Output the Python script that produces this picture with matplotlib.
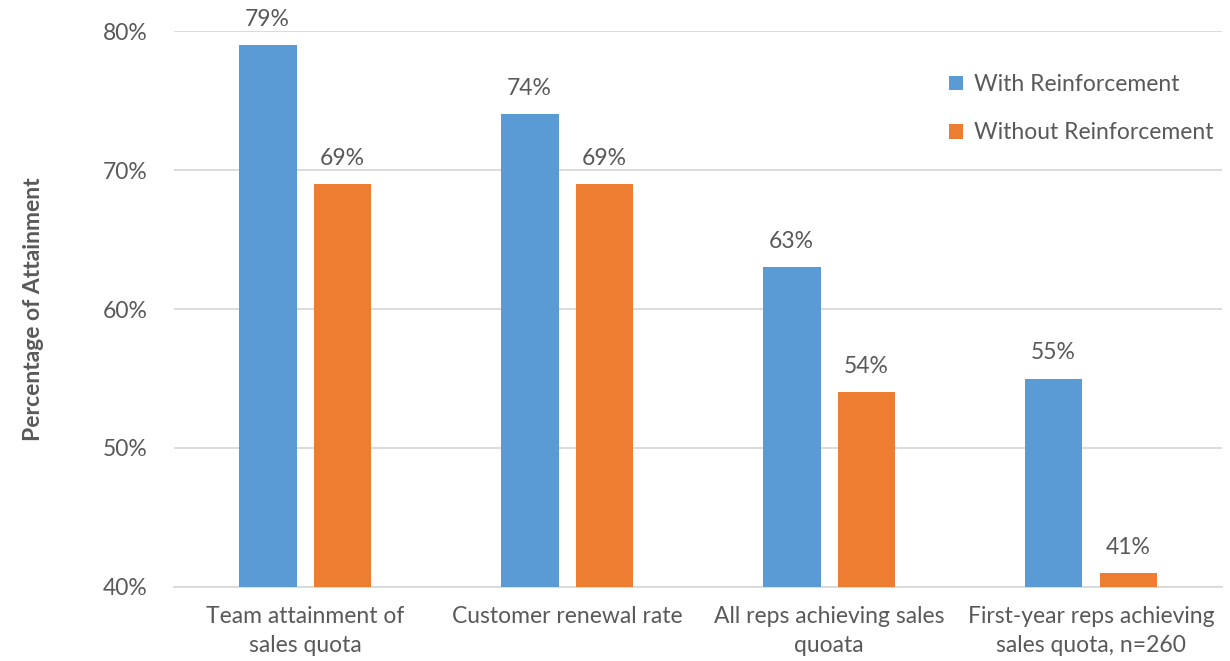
import numpy as np
import matplotlib.pyplot as plt

categories = ['Team attainment of\nsales quota', 'Customer renewal rate',
              'All reps achieving sales\nquoata', 'First-year reps achieving\nsales quota, n=260']
with_reinf = [79, 74, 63, 55]
without_reinf = [69, 69, 54, 41]

blue = '#5b9bd5'
orange = '#ed7d31'
txt = '#595959'
grid = '#d9d9d9'

plt.rcParams['font.family'] = ['Lato', 'DejaVu Sans']

fig = plt.figure(figsize=(12.3, 6.61), dpi=100)
ax = fig.add_axes([0.1415, 0.112, 0.852, 0.841])

x = np.arange(len(categories))
w = 0.221
off = 0.143
b1 = ax.bar(x - off, with_reinf, w, color=blue, label='With Reinforcement', zorder=3)
b2 = ax.bar(x + off, without_reinf, w, color=orange, label='Without Reinforcement', zorder=3)

# etiquetas de valor encima de cada barra
for bars, vals in ((b1, with_reinf), (b2, without_reinf)):
    for r, v in zip(bars, vals):
        ax.text(r.get_x() + r.get_width() / 2, v + 1.1, f'{v}%', ha='center', va='bottom',
                fontsize=16.5, color=txt, clip_on=False)

ax.set_ylim(40, 80)
ax.set_xlim(-0.5, 3.5)
ax.set_yticks([40, 50, 60, 70, 80])
ax.set_yticklabels([f'{t}%' for t in [40, 50, 60, 70, 80]])
ax.set_xticks(x)
ax.set_xticklabels(categories, linespacing=1.45)
ax.tick_params(axis='both', length=0, labelsize=16.5, colors=txt)
ax.tick_params(axis='y', pad=19)
ax.tick_params(axis='x', pad=14)
ax.grid(axis='y', color=grid, linewidth=1.3, zorder=0)
for s in ['top', 'right', 'left']:
    ax.spines[s].set_visible(False)
ax.spines['bottom'].set_color(grid)
ax.spines['bottom'].set_linewidth(1.3)

ax.set_ylabel('Percentage of Attainment', fontsize=16.5, fontweight='bold', color=txt, labelpad=42)

leg = ax.legend(loc='upper right', bbox_to_anchor=(1.012, 0.96), frameon=False, fontsize=16.5,
                handlelength=0.6, handleheight=0.6, handletextpad=0.5, labelspacing=1.2)
for t in leg.get_texts():
    t.set_color(txt)

fig.savefig('out.png', dpi=100)
